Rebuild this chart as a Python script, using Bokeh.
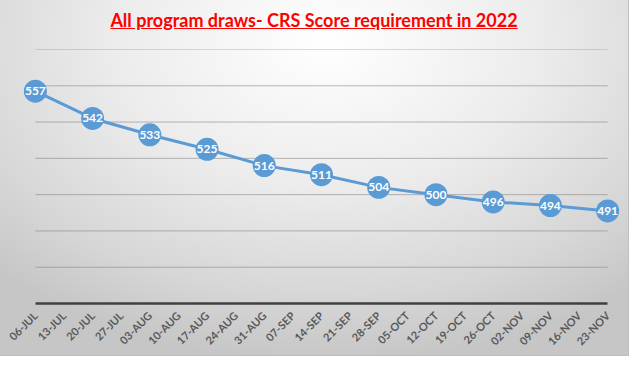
from bokeh.plotting import figure
from bokeh.models import Range1d, FixedTicker, ColumnDataSource, LabelSet, Div
from bokeh.layouts import column
from bokeh.embed import file_html
from bokeh.resources import INLINE
from bokeh.core.properties import value
import math

title_text = "All program draws- CRS Score requirement in 2022"
week_labels = ["06-JUL", "13-JUL", "20-JUL", "27-JUL", "03-AUG", "10-AUG", "17-AUG",
               "24-AUG", "31-AUG", "07-SEP", "14-SEP", "21-SEP", "28-SEP", "05-OCT",
               "12-OCT", "19-OCT", "26-OCT", "02-NOV", "09-NOV", "16-NOV", "23-NOV"]
draw_dates = ["06-JUL", "20-JUL", "03-AUG", "17-AUG", "31-AUG", "14-SEP", "28-SEP",
              "12-OCT", "26-OCT", "09-NOV", "23-NOV"]
crs_scores = [557, 542, 533, 525, 516, 511, 504, 500, 496, 494, 491]
y_ticks = [440, 460, 480, 500, 520, 540, 560, 580]

n = len(week_labels)
xs = [week_labels.index(d) for d in draw_dates]
src = ColumnDataSource(dict(x=xs, y=crs_scores, t=[str(v) for v in crs_scores]))
grid_src = ColumnDataSource(dict(x0=[0] * (len(y_ticks) - 1), x1=[n - 1] * (len(y_ticks) - 1),
                                  y=y_ticks[1:]))

div = Div(
    text=f'<div style="font-family:Lato;font-weight:bold;font-size:18px;color:#ff0000;'
         f'text-decoration:underline;text-align:center;width:628px;padding-top:8px;">{title_text}</div>',
    width=628, height=36, margin=(0, 0, 0, 0),
)

pad = 0.45
p = figure(width=628, height=319, output_backend="svg", toolbar_location=None,
           x_range=Range1d(-pad, n - 1 + pad), y_range=Range1d(y_ticks[0], y_ticks[-1]),
           min_border_left=22, min_border_right=8, min_border_top=13, min_border_bottom=50,
           margin=(0, 0, 0, 0))
p.background_fill_color = None
p.border_fill_color = None
p.outline_line_color = None

p.yaxis.visible = False
p.xgrid.visible = False
p.ygrid.visible = False
p.segment(x0="x0", x1="x1", y0="y", y1="y", source=grid_src,
          line_color="#808080", line_alpha=0.55, line_width=1)

xa = p.xaxis[0]
xa.bounds = (0, n - 1)
xa.ticker = FixedTicker(ticks=list(range(n)))
xa.major_label_overrides = {i: s for i, s in enumerate(week_labels)}
xa.major_label_orientation = math.pi / 4
xa.major_tick_line_color = None
xa.minor_tick_line_color = None
xa.axis_line_color = "#404040"
xa.axis_line_width = 2.5
xa.major_label_text_font = "Lato"
xa.major_label_text_font_style = "bold"
xa.major_label_text_font_size = "11px"
xa.major_label_text_color = "#595959"
xa.major_label_standoff = 4

p.line("x", "y", source=src, line_color="#5b9bd5", line_width=3)
p.scatter("x", "y", source=src, size=23, fill_color="#5b9bd5", line_color=None)
p.add_layout(LabelSet(x="x", y="y", text="t", source=src, text_align="center",
                      text_baseline="middle", text_color="white",
                      text_font=value("Lato"), text_font_style="bold",
                      text_font_size="12px"))

layout = column(div, p, width=628, height=355, spacing=0,
                styles={"background": "radial-gradient(ellipse 75% 90% at 52% 12%, #ffffff 0%, #ececec 45%, #d6d6d6 80%, #c6c6c6 100%)",
                        "outline": "1px solid #bdbdbd"})

open("out.html", "w").write(file_html(layout, INLINE))
